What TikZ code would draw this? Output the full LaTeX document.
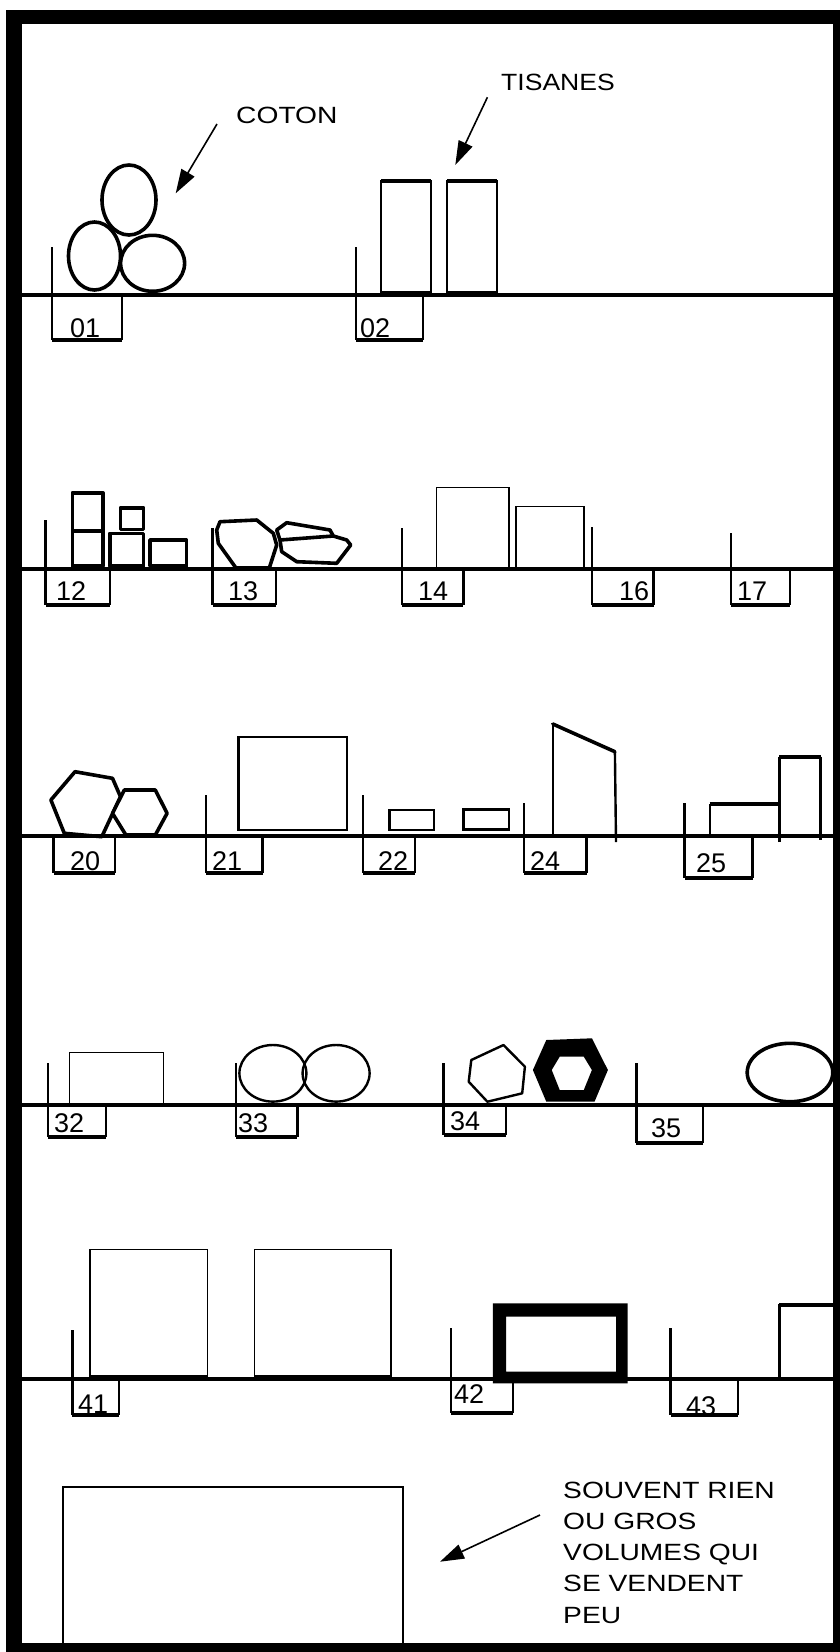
\documentclass[tikz,border=0pt]{standalone}
\usepackage{fontspec}
\setmainfont{Liberation Sans}
\usetikzlibrary{arrows.meta}
\begin{document}
\begin{tikzpicture}[x=1pt,y=-1pt,
  lwa/.style={line width=1.4pt},
  lwb/.style={line width=2.4pt},
  lwc/.style={line width=3.6pt},
  shelfline/.style={line width=4.5pt},
  objline/.style={line join=round,line cap=round},
  numtext/.style={font=\fontsize{27}{30}\selectfont,inner sep=0pt,anchor=base west},
  notetext/.style={font=\fontsize{23.5}{31.25}\selectfont,inner sep=0pt,anchor=base west,align=left},
  pointer/.style={line width=1.6pt,-{Triangle[length=24pt,width=15pt]}}]
\useasboundingbox (0,0) rectangle (840,1652);
% frame
\fill (6,10) rectangle (840,24);
\fill (6,10) rectangle (22,1652);
\fill (833,10) rectangle (840,1652);
\fill (6,1643) rectangle (840,1652);
% shelves
\foreach \sy in {295,569,836,1105,1379}
  \draw[shelfline] (22,\sy) -- (833,\sy);
% label boxes and dividers
\foreach \xa/\xb/\tp/\sh/\bt/\txt/\tx/\ty in {
  52/122/247/295/340/01/70/337,
  356/423/247/295/340/02/360/337,
  45.5/109.8/520/569/605/12/56/600,
  212.5/275.8/528/569/605/13/228/600,
  401.7/463.3/528/569/605/14/418/600,
  592/653.5/527/569/605/16/619/600,
  731/790/533/569/605/17/737/600,
  53.6/115.2/836/836/873/20/70/870,
  206/262.5/795/836/873/21/212/870,
  363/415.1/795/836/873/22/378/870,
  524/586.5/803/836/873/24/530/870,
  684.5/752.6/803/836/878/25/696/872,
  48.2/106/1063/1105/1137/32/54/1132,
  235.7/297.3/1063/1105/1137/33/238/1132,
  443.5/506.2/1063/1105/1135/34/450/1130,
  636.3/702.7/1063/1105/1143/35/651/1137,
  72.3/118.9/1330/1379/1415/41/78/1413,
  451/513/1328/1379/1413/42/454/1403,
  670.6/738/1328/1379/1415/43/686/1415}{
  \draw[lwb] (\xa,\tp) -- (\xa,\bt);
  \draw[lwb] (\xb,\sh) -- (\xb,\bt);
  \draw[lwc] (\xa,\bt) -- (\xb,\bt);
  \node[numtext] (n\txt) at (\tx,\ty) {\txt};
}
% ---------- shelf 1 ----------
\draw[lwc] (129,200) ellipse [x radius=27pt, y radius=35pt];
\draw[lwc] (94.5,256) ellipse [x radius=26pt, y radius=34pt];
\draw[lwc] (152.6,263.3) ellipse [x radius=32pt, y radius=28pt];
\node[notetext] (coton) at (236,123) {\scalebox{1.2}[1]{COTON}};
\coordinate (cotonA) at (217,124);
\coordinate (cotonB) at (175.7,193.3);
\draw[pointer] (cotonA) -- (cotonB);
\node[notetext] (tisanes) at (501,90) {\scalebox{1.13}[1]{TISANES}};
\coordinate (tisA) at (487.4,97.3);
\coordinate (tisB) at (455.3,165);
\draw[pointer] (tisA) -- (tisB);
\draw[lwb] (381,292) rectangle (431,181);
\draw[lwc] (381,181) -- (431,181);
\draw[lwb] (447,292) rectangle (497,181);
\draw[lwc] (447,181) -- (497,181);
% ---------- shelf 2 ----------
\draw[lwc,objline] (72.3,492.7) rectangle (102.8,530.7);
\draw[lwc,objline] (72.3,530.7) rectangle (102.8,566);
\draw[lwc,objline] (120.5,507.7) rectangle (143.5,529.3);
\draw[lwc,objline] (109.8,533.3) rectangle (143.5,566);
\draw[lwc,objline] (150,540) rectangle (186.4,566);
\draw[lwc,objline] (220,521.7) -- (256.7,520) -- (273.3,533.3) -- (276.7,545) -- (269.3,568) -- (236,568) -- (218.3,543.3) -- (216.7,530) -- cycle;
\draw[lwc,objline] (276.7,530) -- (286.7,522.7) -- (330,530) -- (333.3,536) -- (346.7,540) -- (350.7,545) -- (336.7,563.3) -- (296.7,561.7) -- (281.7,551.7) -- (280,540) -- cycle;
\draw[lwc,objline] (280,540) -- (333.3,536);
\draw[lwa] (436.5,568) rectangle (508.8,487.7);
\draw[lwa] (515.8,568) rectangle (583.8,506.7);
% ---------- shelf 3 ----------
\draw[lwc,objline] (75,771.7) -- (112.5,778.3) -- (120.5,796.7) -- (101.8,836.7) -- (64.3,833.3) -- (50.9,800) -- cycle;
\draw[lwc,objline,fill=white] (124.3,790) -- (155.3,790) -- (167.1,813.3) -- (155.3,835) -- (125.9,835) -- (112.5,813.3) -- cycle;
\draw[lwb] (238.4,736.7) rectangle (347,830);
\draw[lwb] (389.4,810) rectangle (433.9,830);
\draw[lwb] (463.3,809.3) rectangle (508.8,829.3);
\draw[lwa] (552.8,836) -- (552.8,724);
\draw[lwc,line cap=round] (552.8,724) -- (614.9,751.7);
\draw[lwb] (614.9,751.7) -- (616,842);
\draw[lwb] (709.7,836) -- (709.7,804);
\draw[lwc] (709.7,804) -- (779.3,804);
\draw[lwb] (779.3,842) -- (779.3,756.7);
\draw[lwc] (779.3,756.7) -- (820.6,756.7);
\draw[lwb] (820.6,756.7) -- (820.6,840);
% ---------- shelf 4 ----------
\draw[lwa] (69.6,1105) rectangle (163.4,1052.7);
\draw[lwb] (272.9,1073.3) ellipse [x radius=33.5pt, y radius=28.3pt];
\draw[lwb] (336.1,1073.3) ellipse [x radius=33.5pt, y radius=28.3pt];
\draw[lwb,objline] (471.3,1060) -- (503.5,1045) -- (524.9,1066.7) -- (522.2,1093.3) -- (487.4,1101.7) -- (468.7,1081.7) -- cycle;
\fill[even odd rule] (546.3,1040) -- (591.9,1038.3) -- (607.9,1070) -- (594.5,1101.7) -- (546.3,1101.7) -- (532.9,1070) -- cycle
  (559.7,1056.7) -- (583.8,1056.7) -- (591.9,1070) -- (583.8,1090) -- (559.7,1090) -- (551.7,1070) -- cycle;
\draw[lwc] (790,1072.5) ellipse [x radius=42.8pt, y radius=29.2pt];
% ---------- shelf 5 ----------
\draw[lwa] (90,1376) rectangle (207.3,1249.3);
\draw[lwa] (254.4,1376) rectangle (391,1249.3);
\fill[even odd rule] (492.8,1303.3) rectangle (627.7,1383.3) (506.2,1316.7) rectangle (616,1371.7);
\draw[lwb] (779.3,1377) -- (779.3,1305) -- (835,1305);
\draw[lwc] (779.3,1305) -- (835,1305);
% ---------- bottom ----------
\draw[lwa] (63,1646) -- (63,1487) -- (403,1487) -- (403,1646);
\node[notetext] (note) at (563,1623) {\scalebox{1.2}[1]{SOUVENT RIEN}\\\scalebox{1.2}[1]{OU GROS}\\\scalebox{1.2}[1]{VOLUMES QUI}\\\scalebox{1.2}[1]{SE VENDENT}\\\scalebox{1.2}[1]{PEU}};
\coordinate (noteA) at (540,1515);
\coordinate (noteB) at (440,1561.7);
\draw[pointer] (noteA) -- (noteB);
\end{tikzpicture}
\end{document}
